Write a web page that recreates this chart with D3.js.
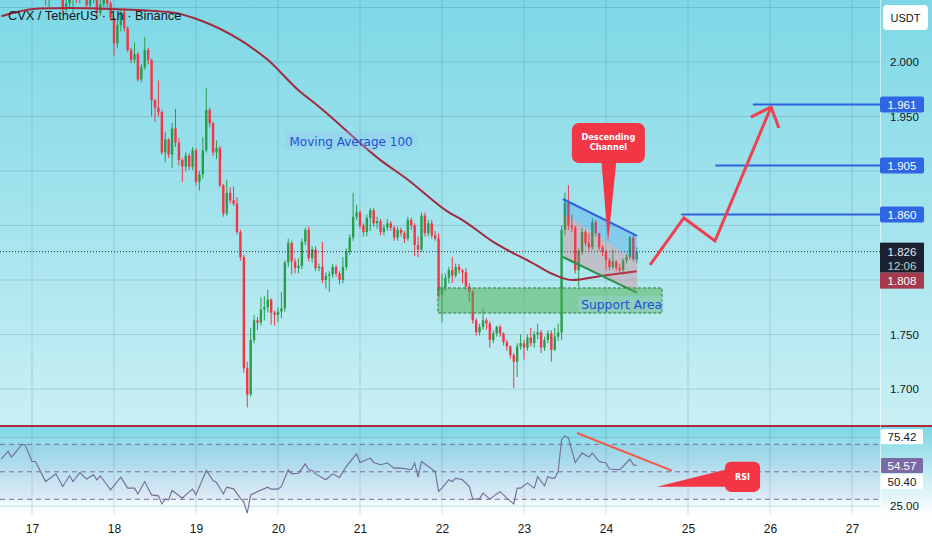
<!DOCTYPE html>
<html><head><meta charset="utf-8">
<script src="https://cdn.jsdelivr.net/npm/d3@7"></script>
<style>body{margin:0;background:#fff;overflow:hidden}svg{display:block}</style>
</head><body>
<svg id="chart" width="932" height="550"></svg>
<script>
// ---------------- DATA ----------------
const title = "CVX / TetherUS · 1h · Binance";
const startHour = -9;            // hours from day 17 00:00
const firstOpen = 2.070;
const closes = [2.072,2.075,2.070,2.074,2.078,2.073,2.069,2.072,2.068,2.070,2.066,2.068,2.064,2.062,2.065,2.066,2.063,2.064,2.048,2.054,
2.057,2.062,2.058,2.063,2.066,2.052,2.058,2.060,2.045,2.053,2.057,2.054,2.040,2.017,2.034,2.046,2.031,2.011,2.002,2.007,
1.984,1.995,2.011,2.002,1.965,1.958,1.954,1.917,1.929,1.915,1.939,1.926,1.910,1.904,1.914,1.904,1.919,1.890,1.897,1.919,
1.956,1.944,1.917,1.921,1.887,1.861,1.880,1.873,1.870,1.844,1.821,1.719,1.695,1.745,1.763,1.761,1.773,1.775,1.782,1.770,
1.768,1.771,1.774,1.816,1.834,1.817,1.811,1.813,1.835,1.846,1.820,1.828,1.811,1.812,1.800,1.804,1.805,1.812,1.806,1.800,
1.812,1.826,1.839,1.858,1.862,1.850,1.844,1.857,1.864,1.852,1.854,1.844,1.848,1.852,1.848,1.839,1.846,1.843,1.838,1.855,
1.850,1.832,1.828,1.859,1.843,1.852,1.841,1.838,1.786,1.793,1.802,1.809,1.804,1.812,1.809,1.807,1.794,1.789,1.763,1.752,
1.757,1.763,1.760,1.745,1.751,1.757,1.751,1.743,1.739,1.731,1.725,1.739,1.742,1.738,1.747,1.742,1.750,1.752,1.738,1.745,
1.751,1.736,1.748,1.752,1.846,1.871,1.850,1.848,1.809,1.826,1.844,1.834,1.830,1.853,1.843,1.830,1.826,1.818,1.812,1.817,
1.811,1.809,1.818,1.821,1.839,1.819,1.826];
const highs = [2.078,2.080,2.077,2.079,2.084,2.080,2.076,2.077,2.074,2.075,2.072,2.073,2.070,2.069,2.070,2.072,2.070,2.069,2.066,2.058,
2.062,2.066,2.064,2.068,2.071,2.068,2.062,2.066,2.062,2.058,2.062,2.062,2.056,2.041,2.040,2.048,2.050,2.033,2.013,2.018,
2.009,1.998,2.023,2.013,2.003,1.966,1.983,1.956,1.936,1.930,1.944,1.957,1.930,1.912,1.917,1.916,1.922,1.921,1.900,1.931,
1.976,1.958,1.945,1.928,1.923,1.888,1.892,1.885,1.886,1.876,1.846,1.823,1.725,1.756,1.768,1.766,1.784,1.785,1.791,1.783,
1.772,1.775,1.789,1.818,1.838,1.836,1.820,1.820,1.838,1.848,1.849,1.831,1.831,1.815,1.835,1.807,1.808,1.815,1.814,1.808,
1.821,1.829,1.842,1.880,1.869,1.864,1.852,1.860,1.866,1.866,1.858,1.856,1.851,1.856,1.854,1.850,1.849,1.848,1.845,1.858,
1.857,1.852,1.840,1.862,1.862,1.855,1.855,1.845,1.843,1.806,1.806,1.812,1.821,1.815,1.815,1.810,1.811,1.797,1.791,1.765,
1.760,1.774,1.765,1.762,1.754,1.758,1.759,1.752,1.745,1.740,1.733,1.742,1.750,1.745,1.750,1.756,1.753,1.760,1.754,1.748,
1.754,1.754,1.756,1.760,1.850,1.880,1.887,1.860,1.850,1.829,1.848,1.846,1.843,1.857,1.855,1.841,1.832,1.828,1.820,1.828,
1.818,1.815,1.820,1.824,1.841,1.841,1.830];
const lows = [2.066,2.069,2.066,2.068,2.071,2.068,2.064,2.066,2.063,2.064,2.061,2.062,2.059,2.052,2.050,2.058,2.058,2.057,2.046,2.046,
2.050,2.045,2.054,2.054,2.059,2.050,2.050,2.054,2.040,2.042,2.050,2.050,2.038,2.006,2.013,2.028,2.028,2.009,1.999,1.999,
1.982,1.981,1.993,1.998,1.950,1.945,1.950,1.915,1.908,1.912,1.903,1.922,1.905,1.890,1.900,1.901,1.901,1.887,1.882,1.893,
1.917,1.940,1.914,1.911,1.885,1.858,1.859,1.870,1.868,1.842,1.818,1.715,1.683,1.693,1.742,1.754,1.758,1.763,1.770,1.759,
1.758,1.761,1.765,1.771,1.812,1.805,1.806,1.806,1.810,1.832,1.817,1.816,1.808,1.808,1.797,1.792,1.789,1.802,1.803,1.796,
1.797,1.809,1.823,1.836,1.855,1.847,1.840,1.840,1.845,1.849,1.847,1.841,1.841,1.845,1.845,1.836,1.836,1.840,1.834,1.836,
1.846,1.822,1.821,1.826,1.840,1.840,1.838,1.836,1.783,1.761,1.790,1.797,1.797,1.802,1.806,1.797,1.791,1.780,1.760,1.749,
1.749,1.754,1.754,1.738,1.742,1.748,1.748,1.740,1.735,1.728,1.701,1.711,1.736,1.727,1.735,1.739,1.738,1.746,1.733,1.735,
1.742,1.725,1.735,1.744,1.745,1.841,1.846,1.844,1.806,1.794,1.823,1.831,1.827,1.828,1.840,1.827,1.822,1.809,1.809,1.810,
1.808,1.806,1.805,1.815,1.819,1.817,1.815];

const maHours  = [-9,2,11,20,35,42,49,61,69,78,84,102,110,122,126,135,140,146,152,158,167,177];
const maValues = [2.042,2.049,2.0495,2.049,2.047,2.045,2.0385,2.020,2.002,1.974,1.959,1.910,1.892,1.862,1.855,1.835,1.826,1.8165,1.806,1.800,1.804,1.808];

const rsiHours  = [-9,-7,-6,-5,-3,-2,0,1,4,7,9,11,12,14,16,18,19,20,23,26,28,30,31,33,35,37,38,39,40,41,44,45,47,48,51,53,54,56,57,59,61,62,63,64,66,69,70,72,73,75,76,78,80,81,82,83,86,88,90,92,95,96,99,100,102,104,106,108,111,112,113,114,116,118,119,120,122,123,124,126,128,129,131,132,134,136,137,139,141,142,143,145,147,148,150,151,152,153,154,155,156,157,159,161,163,164,166,168,169,172,173,175,176,177];
const rsiValues = [59.3,64.8,60.7,63.6,69.7,69.7,57.5,57.5,42.9,48.5,39.3,47.1,42.9,49.5,44.7,47.8,44.2,47.1,36.9,46.1,38.1,38.1,33.9,42.9,33.2,32.5,26.6,30.1,29.6,36.4,30.8,33.2,37.4,33.2,51.0,43.6,42.2,33.9,38.8,37.6,30.8,28.0,19.9,33.2,35.6,38.8,37.4,37.4,39.3,51.5,48.5,49.0,55.8,51.5,51.0,48.5,44.2,48.5,45.8,53.9,63.1,56.8,60.0,56.8,55.1,56.4,52.7,52.7,51.5,56.4,46.1,57.5,53.9,50.2,35.8,38.1,44.2,42.9,45.4,44.2,39.3,30.1,30.3,34.5,30.1,33.9,35.6,30.8,26.6,38.1,38.1,41.8,38.1,46.6,39.8,46.6,45.4,45.4,50.2,73.4,76.3,74.6,56.8,63.6,60.7,63.6,57.5,56.4,52.0,51.5,53.9,59.3,55.1,54.6];

const dayHours  = [0,24,48,72,96,120,144,168,192,216,240];
const dayLabels = ["17","18","19","20","21","22","23","24","25","26","27"];
const priceTicks = [2.000,1.950,1.750,1.700];
const gridPrices = [2.050,2.000,1.950,1.900,1.850,1.800,1.750,1.700];
const rsiLevels = [70,50,30];
const rsiGrid = [75,25];
const targetLevels = [1.961,1.905,1.860];
const targetStartHours = [211,200,190];
const lastPrice = 1.826, lastCountdown = "12:06", maLast = 1.808;
const rsiLabels = [{v:75.42,t:"75.42",kind:"white"},{v:54.57,t:"54.57",kind:"purple"},{v:50.40,t:"50.40",kind:"white"}];

// drawings (in hour / price units)
const zigHours  = [180.9,190.8,199.9,216.3];
const zigPrices = [1.8138,1.8569,1.8358,1.9587];
const arrowWingHours = [210.4,218.6];
const arrowWingPrices = [1.9495,1.9394];
const chanHours = [155.4,177.1];
const chanTop = [1.8743,1.8404];
const chanMid = [1.8615,1.8170];
const chanBot = [1.8211,1.7881];
const supportHours = [118.8,184.4];
const supportPrices = [1.7927,1.7697];
const rsiTrendHours = [159.5,187.3];
const rsiTrendValues = [78.2,50.9];

// ---------------- LAYOUT ----------------
const W = 932, H = 550;
const plotR = 880, mainBottom = 425, rsiTop = 426, rsiBottom = 515;
const svg = d3.select("#chart");
const x = d3.scaleLinear().domain([0,240]).range([32, 852]);
const y = d3.scaleLinear().domain([1.7,2.0]).range([389,62]);
const ry = d3.scaleLinear().domain([30,70]).range([499.3,444.3]);
const FONT = "'Liberation Sans', Arial, sans-serif";
const DV = "'DejaVu Sans', Verdana, sans-serif";
const UP = "#2a9d4b", DOWN = "#f23645";

const defs = svg.append("defs");
const g1 = defs.append("linearGradient").attr("id","bgMain").attr("x1",0).attr("y1",0).attr("x2",0).attr("y2",1);
g1.append("stop").attr("offset","0%").attr("stop-color","#7dd8e6");
g1.append("stop").attr("offset","100%").attr("stop-color","#c9eff4");
const g2 = defs.append("linearGradient").attr("id","bgRsi").attr("x1",0).attr("y1",0).attr("x2",0).attr("y2",1);
g2.append("stop").attr("offset","0%").attr("stop-color","#7cd6e5");
g2.append("stop").attr("offset","100%").attr("stop-color","#ffffff");
defs.append("clipPath").attr("id","clipMain").append("rect").attr("x",0).attr("y",0).attr("width",plotR).attr("height",mainBottom);
defs.append("clipPath").attr("id","clipRsi").append("rect").attr("x",0).attr("y",rsiTop).attr("width",plotR).attr("height",rsiBottom-rsiTop);

svg.append("rect").attr("width",W).attr("height",H).attr("fill","#ffffff");
svg.append("rect").attr("x",0).attr("y",0).attr("width",W).attr("height",mainBottom).attr("fill","url(#bgMain)");
svg.append("rect").attr("x",0).attr("y",rsiTop).attr("width",W).attr("height",rsiBottom-rsiTop).attr("fill","url(#bgRsi)");

// grid
const grid = svg.append("g").attr("stroke","rgba(60,95,115,0.2)").attr("stroke-width",1);
dayHours.forEach(h=>{
  grid.append("line").attr("x1",x(h)).attr("x2",x(h)).attr("y1",0).attr("y2",mainBottom);
  grid.append("line").attr("x1",x(h)).attr("x2",x(h)).attr("y1",rsiTop).attr("y2",rsiBottom);
});
gridPrices.forEach(p=>grid.append("line").attr("x1",0).attr("x2",plotR).attr("y1",y(p)).attr("y2",y(p)));
rsiGrid.forEach(v=>grid.append("line").attr("x1",0).attr("x2",plotR).attr("y1",ry(v)).attr("y2",ry(v)));

// ---------------- MAIN PANE ----------------
const main = svg.append("g").attr("clip-path","url(#clipMain)");
const candles = closes.map((c,i)=>{
  const o = i===0 ? firstOpen : closes[i-1];
  return {h:startHour+i, o, c, hi:Math.max(highs[i],o,c), lo:Math.min(lows[i],o,c)};
});
const cw = 2.4;
const cg = main.append("g");
cg.selectAll("line").data(candles).join("line")
  .attr("x1",d=>x(d.h)).attr("x2",d=>x(d.h))
  .attr("y1",d=>y(d.hi)).attr("y2",d=>y(d.lo))
  .attr("stroke",d=>d.c>=d.o?UP:DOWN).attr("stroke-width",1);
cg.selectAll("rect").data(candles).join("rect")
  .attr("x",d=>x(d.h)-cw/2).attr("width",cw)
  .attr("y",d=>y(Math.max(d.o,d.c)))
  .attr("height",d=>Math.max(1,Math.abs(y(d.o)-y(d.c))))
  .attr("fill",d=>d.c>=d.o?UP:DOWN);

// MA 100
const maLine = d3.line().x((d,i)=>x(maHours[i])).y(d=>y(d)).curve(d3.curveMonotoneX);
main.append("path").attr("d",maLine(maValues)).attr("fill","none").attr("stroke","#a32a3e").attr("stroke-width",2);

// last price dotted line
main.append("line").attr("x1",0).attr("x2",plotR).attr("y1",y(lastPrice)).attr("y2",y(lastPrice))
  .attr("stroke","#1c2230").attr("stroke-width",1).attr("stroke-dasharray","1,2");

// channel
const pt = (h,p)=>[x(h),y(p)];
const bluePoly = [pt(chanHours[0],chanTop[0]),pt(chanHours[1],chanTop[1]),pt(chanHours[1],chanMid[1]),pt(chanHours[0],chanMid[0])];
const pinkPoly = [pt(chanHours[0],chanMid[0]),pt(chanHours[1],chanMid[1]),pt(chanHours[1],chanBot[1]),pt(chanHours[0],chanBot[0])];
main.append("polygon").attr("points",bluePoly.join(" ")).attr("fill","rgba(41,140,235,0.28)");
main.append("polygon").attr("points",pinkPoly.join(" ")).attr("fill","rgba(242,80,90,0.25)");
main.append("line").attr("x1",x(chanHours[0])).attr("y1",y(chanTop[0])).attr("x2",x(chanHours[1])).attr("y2",y(chanTop[1]))
  .attr("stroke","#2f62e0").attr("stroke-width",2);
main.append("line").attr("x1",x(chanHours[0])).attr("y1",y(chanBot[0])).attr("x2",x(chanHours[1])).attr("y2",y(chanBot[1]))
  .attr("stroke","#2e8f48").attr("stroke-width",2);

// support area
main.append("rect").attr("x",x(supportHours[0])).attr("y",y(supportPrices[0]))
  .attr("width",x(supportHours[1])-x(supportHours[0])).attr("height",y(supportPrices[1])-y(supportPrices[0]))
  .attr("fill","rgba(76,175,80,0.5)").attr("stroke","#2f7a3e").attr("stroke-width",1).attr("stroke-dasharray","3,2");
main.append("rect").attr("x",x(supportHours[1])-84).attr("y",y(supportPrices[1])-17).attr("width",86).attr("height",16)
  .attr("fill","rgba(170,215,255,0.25)");
main.append("text").attr("x",x(supportHours[1])).attr("y",y(supportPrices[1])-4).attr("text-anchor","end")
  .attr("font-family",DV).attr("font-size",12.3).attr("fill","#2350d8").text("Support Area");

// target levels
targetLevels.forEach((p,i)=>{
  main.append("line").attr("x1",x(targetStartHours[i])).attr("x2",plotR).attr("y1",y(p)).attr("y2",y(p))
    .attr("stroke","#2f62e0").attr("stroke-width",2);
});

// zigzag arrow
const zl = d3.line().x((d,i)=>x(zigHours[i])).y(d=>y(d));
main.append("path").attr("d",zl(zigPrices)).attr("fill","none").attr("stroke","#f04050").attr("stroke-width",3).attr("stroke-linejoin","miter");
main.append("path").attr("d",`M${x(arrowWingHours[0])},${y(arrowWingPrices[0])}L${x(zigHours[3])},${y(zigPrices[3])}L${x(arrowWingHours[1])},${y(arrowWingPrices[1])}`)
  .attr("fill","none").attr("stroke","#f04050").attr("stroke-width",3);

// Moving Average label
const maLab = {h:93.4,p:1.9275};
main.append("rect").attr("x",x(maLab.h)-66).attr("y",y(maLab.p)-10).attr("width",132).attr("height",19)
  .attr("fill","rgba(150,195,245,0.3)");
main.append("text").attr("x",x(maLab.h)).attr("y",y(maLab.p)+4.5).attr("text-anchor","middle")
  .attr("font-family",DV).attr("font-size",12).attr("fill","#2350d8").text("Moving Average 100");

// Descending Channel callout
const dc = {h:168.7, tipH:168.6, tipP:1.8349, top:1.944, bot:1.9073};
const dcx = x(dc.h), dTop=y(dc.top), dBot=y(dc.bot);
main.append("path").attr("d",`M${dcx-7},${dBot-2}L${x(dc.tipH)},${y(dc.tipP)}L${dcx+8},${dBot-2}Z`).attr("fill","#f23645");
main.append("rect").attr("x",dcx-36.5).attr("y",dTop).attr("width",73).attr("height",dBot-dTop).attr("rx",7).attr("fill","#f23645");
main.append("text").attr("x",dcx).attr("y",dTop+17).attr("text-anchor","middle").attr("font-family",DV).attr("font-weight","bold")
  .attr("font-size",8.2).attr("fill","#fff").text("Descending");
main.append("text").attr("x",dcx).attr("y",dTop+27).attr("text-anchor","middle").attr("font-family",DV).attr("font-weight","bold")
  .attr("font-size",8.2).attr("fill","#fff").text("Channel");

// title
svg.append("text").attr("x",8).attr("y",20).attr("font-family",FONT).attr("font-size",12.8).attr("fill","#131722").text(title);

// ---------------- RSI PANE ----------------
const rsiG = svg.append("g").attr("clip-path","url(#clipRsi)");
rsiG.append("rect").attr("x",0).attr("width",plotR).attr("y",ry(70)).attr("height",ry(30)-ry(70)).attr("fill","rgba(126,87,194,0.08)");
rsiLevels.forEach(v=>rsiG.append("line").attr("x1",0).attr("x2",plotR).attr("y1",ry(v)).attr("y2",ry(v))
  .attr("stroke","#7b6a9a").attr("stroke-width",1).attr("stroke-dasharray","5,4"));
const rl = d3.line().x((d,i)=>x(rsiHours[i])).y(d=>ry(d));
rsiG.append("path").attr("d",rl(rsiValues)).attr("fill","none").attr("stroke","#6f6a96").attr("stroke-width",1.1);
rsiG.append("line").attr("x1",x(rsiTrendHours[0])).attr("y1",ry(rsiTrendValues[0])).attr("x2",x(rsiTrendHours[1])).attr("y2",ry(rsiTrendValues[1]))
  .attr("stroke","#f0584a").attr("stroke-width",2);
// RSI callout
const rc = {tipH:182.9,tipV:39.1,h0:202.8,h1:213.1,vTop:57.3,vBot:35.4};
rsiG.append("path").attr("d",`M${x(rc.tipH)},${ry(rc.tipV)}L${x(rc.h0)+4},${ry(rc.vTop)+7}L${x(rc.h0)+4},${ry(rc.vTop)+25}Z`).attr("fill","#f23645");
rsiG.append("rect").attr("x",x(rc.h0)).attr("y",ry(rc.vTop)).attr("width",x(rc.h1)-x(rc.h0)).attr("height",ry(rc.vBot)-ry(rc.vTop))
  .attr("rx",6).attr("fill","#f23645");
rsiG.append("text").attr("x",(x(rc.h0)+x(rc.h1))/2).attr("y",(ry(rc.vTop)+ry(rc.vBot))/2+3).attr("text-anchor","middle")
  .attr("font-family",DV).attr("font-weight","bold").attr("font-size",8).attr("fill","#fff").text("RSI");

// pane separator
svg.append("line").attr("x1",0).attr("x2",W).attr("y1",426).attr("y2",426).attr("stroke","#b02a3e").attr("stroke-width",2);
svg.append("line").attr("x1",plotR+0.5).attr("x2",plotR+0.5).attr("y1",0).attr("y2",rsiBottom).attr("stroke","rgba(255,255,255,0.55)");

// ---------------- AXES ----------------
const yAxis = d3.axisRight(y).tickValues(priceTicks).tickFormat(d3.format(".3f")).tickSize(0).tickPadding(10);
const ya = svg.append("g").attr("transform",`translate(${plotR},0)`).call(yAxis);
ya.select(".domain").remove();
ya.selectAll("text").attr("font-family",FONT).attr("font-size",11.5).attr("fill","#131722");

const xAxis = d3.axisBottom(x).tickValues(dayHours).tickFormat((d,i)=>dayLabels[i]).tickSize(0).tickPadding(0);
const xa = svg.append("g").attr("transform",`translate(0,${rsiBottom+7})`).call(xAxis);
xa.select(".domain").remove();
xa.selectAll("text").attr("font-family",FONT).attr("font-size",12).attr("fill","#131722").attr("dy","0.9em");

// RSI axis
svg.append("text").attr("x",890).attr("y",ry(25)+4).attr("font-family",FONT).attr("font-size",11.5).attr("fill","#131722").text("25.00");
rsiLabels.forEach((r,i)=>{
  let cy = ry(r.v);
  if (i===2) cy = ry(rsiLabels[1].v)+16;
  svg.append("rect").attr("x",881).attr("y",cy-7.5).attr("width",42).attr("height",15).attr("rx",1.5)
    .attr("fill", r.kind==="purple" ? "#7b6aa3" : "#ffffff");
  svg.append("text").attr("x",902).attr("y",cy+4).attr("text-anchor","middle").attr("font-family",FONT).attr("font-size",11.5)
    .attr("fill", r.kind==="purple" ? "#ffffff" : "#131722").text(r.t);
});

// price labels on axis
targetLevels.forEach(p=>{
  svg.append("rect").attr("x",880).attr("y",y(p)-8).attr("width",44).attr("height",16).attr("rx",2).attr("fill","#2f66e3");
  svg.append("text").attr("x",902).attr("y",y(p)+4).attr("text-anchor","middle").attr("font-family",FONT).attr("font-size",11.5)
    .attr("fill","#fff").text(d3.format(".3f")(p));
});
svg.append("rect").attr("x",880).attr("y",y(lastPrice)-9).attr("width",44).attr("height",30).attr("fill","#1c2132");
svg.append("text").attr("x",902).attr("y",y(lastPrice)+4).attr("text-anchor","middle").attr("font-family",FONT).attr("font-size",11.5)
  .attr("fill","#e6e9ef").text(d3.format(".3f")(lastPrice));
svg.append("text").attr("x",902).attr("y",y(lastPrice)+18).attr("text-anchor","middle").attr("font-family",FONT).attr("font-size",11.5)
  .attr("fill","#b9d7c6").text(lastCountdown);
svg.append("rect").attr("x",880).attr("y",y(lastPrice)+21).attr("width",44).attr("height",16).attr("fill","#a63a4c");
svg.append("text").attr("x",902).attr("y",y(lastPrice)+33).attr("text-anchor","middle").attr("font-family",FONT).attr("font-size",11.5)
  .attr("fill","#fff").text(d3.format(".3f")(maLast));

// USDT box
svg.append("rect").attr("x",883).attr("y",5).attr("width",45).attr("height",25).attr("rx",4).attr("fill","#ffffff");
svg.append("text").attr("x",905.5).attr("y",21.5).attr("text-anchor","middle").attr("font-family",FONT).attr("font-size",11).attr("fill","#131722").text("USDT");
</script>
</body></html>
